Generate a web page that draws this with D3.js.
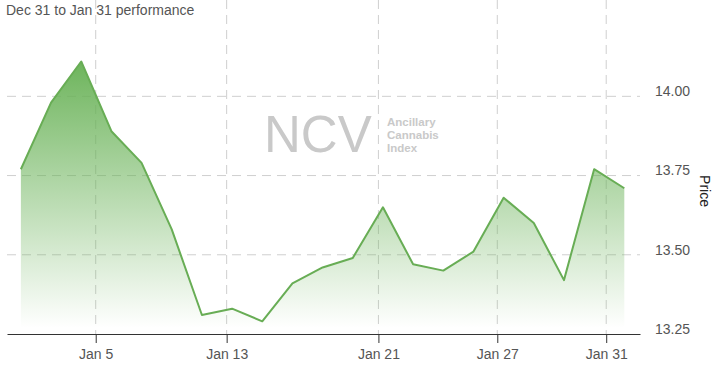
<!DOCTYPE html>
<html lang="en">
<head>
    <meta charset="UTF-8">
    <title>NCV - Dec 31 to Jan 31 performance</title>
    <style>
        body { margin: 0; background: #fff; }
        svg { display: block; font-family: "Liberation Sans", Arial, sans-serif; }
    </style>
    <script src="https://d3js.org/d3.v7.min.js"></script>
</head>
<body>
    <svg id="chart" width="720" height="370"></svg>
    <script>
        // prix de cloture, un point par seance
        var prices = [13.77, 13.98, 14.11, 13.89, 13.79, 13.58, 13.31, 13.33, 13.29, 13.41, 13.46,
                      13.49, 13.65, 13.47, 13.45, 13.51, 13.68, 13.60, 13.42, 13.77, 13.71];
        // etiquettes de l'axe x et leur position (en index de seance)
        var tickLabels = ["Jan 5", "Jan 13", "Jan 21", "Jan 27", "Jan 31"];
        var tickIndex = [2.48, 6.82, 11.85, 15.79, 19.40];
        var priceTicks = [13.25, 13.50, 13.75, 14.00];

        var svg = d3.select("#chart");
        // attention : "top" est reserve dans window
        var plotLeft = 7, plotRight = 640, plotTop = 0, plotBottom = 334;

        var x = d3.scaleLinear().domain([-0.46, 20.52]).range([plotLeft, plotRight]);
        var y = d3.scaleLinear().domain([13.25, 14.304]).range([plotBottom, plotTop]);

        // degrade de l'aire
        var grad = svg.append("defs").append("linearGradient")
            .attr("id", "fade")
            .attr("gradientUnits", "userSpaceOnUse")
            .attr("x1", 0).attr("x2", 0)
            .attr("y1", y(d3.max(prices))).attr("y2", plotBottom - 6);
        grad.append("stop").attr("offset", 0).attr("stop-color", "#69b257").attr("stop-opacity", 0.97);
        grad.append("stop").attr("offset", 1).attr("stop-color", "#69b257").attr("stop-opacity", 0);

        // grille horizontale
        svg.append("g").selectAll("line")
            .data(priceTicks.filter(function(d) { return d > 13.25; }))
            .join("line")
            .attr("x1", plotLeft).attr("x2", plotRight)
            .attr("y1", function(d) { return y(d); })
            .attr("y2", function(d) { return y(d); })
            .attr("stroke", "#cfcfcf")
            .attr("stroke-dasharray", "9,6");

        // grille verticale
        svg.append("g").selectAll("line")
            .data(tickIndex)
            .join("line")
            .attr("x1", function(d) { return x(d); })
            .attr("x2", function(d) { return x(d); })
            .attr("y1", plotTop).attr("y2", plotBottom)
            .attr("stroke", "#cfcfcf")
            .attr("stroke-dasharray", "9,6");

        // filigrane
        var wm = svg.append("g").attr("fill", "#c9c9c9");
        wm.append("text")
            .attr("x", 264).attr("y", 152)
            .attr("font-size", 51)
            .text("NCV");
        wm.selectAll("text.sub")
            .data(["Ancillary", "Cannabis", "Index"])
            .join("text")
            .attr("class", "sub")
            .attr("x", 387)
            .attr("y", function(d, i) { return 126 + i * 13; })
            .attr("font-size", 11.5)
            .attr("font-weight", "bold")
            .text(function(d) { return d; });

        // aire + ligne
        var area = d3.area()
            .x(function(d, i) { return x(i); })
            .y0(plotBottom)
            .y1(function(d) { return y(d); });
        var line = d3.line()
            .x(function(d, i) { return x(i); })
            .y(function(d) { return y(d); });

        svg.append("path")
            .datum(prices)
            .attr("d", area)
            .attr("fill", "url(#fade)");
        svg.append("path")
            .datum(prices)
            .attr("d", line)
            .attr("fill", "none")
            .attr("stroke", "#68ad55")
            .attr("stroke-width", 2)
            .attr("stroke-linejoin", "round");

        // axe x
        var xAxis = d3.axisBottom(x)
            .tickValues(tickIndex)
            .tickFormat(function(d, i) { return tickLabels[i]; })
            .tickSize(9)
            .tickSizeOuter(0)
            .tickPadding(6);
        var gx = svg.append("g")
            .attr("transform", "translate(0," + plotBottom + ")")
            .call(xAxis);
        gx.select(".domain").attr("stroke", "#333");
        gx.selectAll(".tick line").attr("stroke", "#333");
        gx.selectAll(".tick text")
            .attr("fill", "#555")
            .attr("font-size", 14)
            .attr("font-family", "Liberation Sans, Arial, sans-serif");

        // axe des prix (a droite, sans ligne)
        var gy = svg.append("g")
            .attr("transform", "translate(" + plotRight + ",0)")
            .call(d3.axisRight(y).tickValues(priceTicks).tickFormat(d3.format(".2f")).tickSize(0).tickPadding(15));
        gy.select(".domain").remove();
        gy.selectAll(".tick text")
            .attr("dy", "-0.05em")
            .attr("fill", "#555")
            .attr("font-size", 14)
            .attr("font-family", "Liberation Sans, Arial, sans-serif");

        svg.append("text")
            .attr("transform", "translate(700,191) rotate(90)")
            .attr("text-anchor", "middle")
            .attr("font-size", 14)
            .attr("fill", "#222")
            .text("Price");

        // titre
        svg.append("text")
            .attr("x", 6).attr("y", 15)
            .attr("font-size", 14)
            .attr("fill", "#555")
            .text("Dec 31 to Jan 31 performance");
    </script>
</body>
</html>
